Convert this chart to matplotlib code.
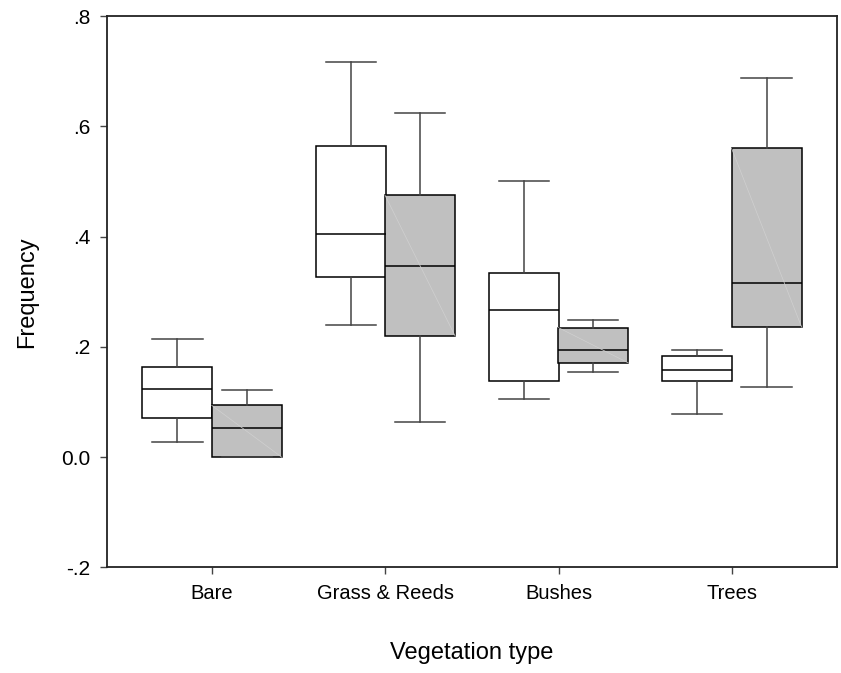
import matplotlib.pyplot as plt

plt.rcParams["font.family"] = ["Liberation Sans", "DejaVu Sans"]

categories = ["Bare", "Grass & Reeds", "Bushes", "Trees"]

# white boxes (first group)
white_lo = [0.028, 0.240, 0.105, 0.079]
white_q1 = [0.071, 0.327, 0.138, 0.138]
white_med = [0.124, 0.405, 0.266, 0.159]
white_q3 = [0.163, 0.564, 0.334, 0.183]
white_hi = [0.215, 0.717, 0.500, 0.195]

# grey boxes (second group)
grey_lo = [0.000, 0.063, 0.154, 0.128]
grey_q1 = [0.000, 0.220, 0.171, 0.236]
grey_med = [0.053, 0.346, 0.195, 0.316]
grey_q3 = [0.094, 0.475, 0.235, 0.560]
grey_hi = [0.122, 0.625, 0.249, 0.688]

yticks = [-0.2, 0.0, 0.2, 0.4, 0.6, 0.8]
ytick_labels = ["-.2", "0.0", ".2", ".4", ".6", ".8"]


def make_stats(lo, q1, med, q3, hi):
    return [
        {"whislo": a, "q1": b, "med": c, "q3": d, "whishi": e, "fliers": []}
        for a, b, c, d, e in zip(lo, q1, med, q3, hi)
    ]


fig = plt.figure(figsize=(8.41, 6.73), dpi=100)
ax = fig.add_axes([0.1269, 0.1568, 0.8683, 0.8194])

pos = range(1, len(categories) + 1)
width = 0.404
cap = 0.29

groups = [
    (make_stats(white_lo, white_q1, white_med, white_q3, white_hi), -0.2, "white"),
    (make_stats(grey_lo, grey_q1, grey_med, grey_q3, grey_hi), 0.2, "#c0c0c0"),
]

for stats, off, fc in groups:
    ax.bxp(
        stats,
        positions=[p + off for p in pos],
        widths=width,
        capwidths=cap,
        patch_artist=True,
        showfliers=False,
        boxprops=dict(facecolor=fc, edgecolor="black", linewidth=1.1),
        medianprops=dict(color="black", linewidth=1.1),
        whiskerprops=dict(color="#444444", linewidth=1.1),
        capprops=dict(color="#444444", linewidth=1.1),
        zorder=2,
    )

# faint rendering diagonal inside the shaded boxes
for p, q1, q3 in zip(pos, grey_q1, grey_q3):
    x0 = p + 0.2 - width / 2
    x1 = p + 0.2 + width / 2
    ax.plot([x0, x1], [q3, q1], color="#d0d0d0", linewidth=0.5, zorder=3)

ax.set_xlim(0.392, 4.606)
ax.set_ylim(-0.2, 0.8)
ax.set_xticks(list(pos))
ax.set_xticklabels(categories, fontsize=14.5)
ax.set_yticks(yticks)
ax.set_yticklabels(ytick_labels, fontsize=15)
ax.tick_params(axis="both", direction="out", length=5, width=1, color="#444444")
ax.tick_params(axis="y", pad=7)
ax.tick_params(axis="x", pad=7)

for s in ax.spines.values():
    s.set_linewidth(1.3)
    s.set_color("#222222")

ax.set_xlabel("Vegetation type", fontsize=17, labelpad=28)
ax.set_ylabel("Frequency", fontsize=17, labelpad=16)

fig.savefig("out.png", dpi=100)
